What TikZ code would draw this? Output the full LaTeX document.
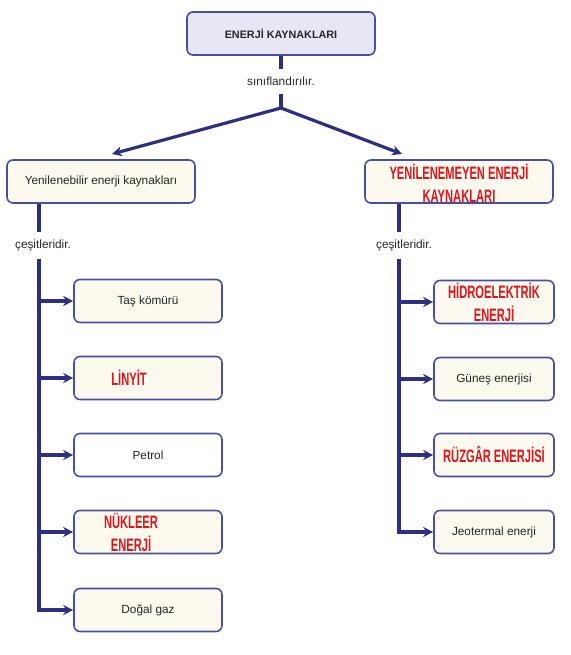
\documentclass[tikz,border=0pt]{standalone}
\usepackage{fontspec}
\setmainfont{Liberation Sans}
\newfontfamily\answerfont[FakeStretch=0.62]{Liberation Sans}
\usetikzlibrary{arrows.meta}
\definecolor{navy}{HTML}{2E2F80}
\definecolor{boxline}{HTML}{4A4E9E}
\definecolor{topfill}{HTML}{E6E6F5}
\definecolor{cream}{HTML}{FCFAEE}
\definecolor{answer}{HTML}{E0141C}
\begin{document}
\begin{tikzpicture}[x=1pt,y=-1pt,
  every node/.style={font=\fontsize{11.8}{13}\selectfont,text=black!85},
  kutu/.style={draw=boxline,line width=1.6pt,rounded corners=6pt,fill=cream,minimum height=43pt,inner sep=0pt},
  cevap/.style={font=\answerfont\bfseries\fontsize{18}{23}\selectfont,text=answer,align=center,inner sep=0pt},
  etiket/.style={inner xsep=1pt,inner ysep=7.5pt},
  hat/.style={draw=navy,line width=3.2pt},
  ok/.style={hat,-{Stealth[length=10pt,width=10pt]}}]
\useasboundingbox (0,0) rectangle (570,655);
% ana kutu
\node[kutu,fill=topfill,minimum width=188pt,font=\bfseries\fontsize{10.8}{13}\selectfont] (ana) at (281,33.5) {ENERJİ KAYNAKLARI};
\node[etiket] (sinif) at (281,81.5) {sınıflandırılır.};
\coordinate (catal) at (281,108);
\coordinate (uclL) at (112,154);
\coordinate (uclR) at (402,154);
% iki grup
\node[kutu,minimum width=188pt] (yen) at (101,181.5) {Yenilenebilir enerji kaynakları};
\node[kutu,minimum width=188pt] (yenz) at (459,181.5) {};
\node[cevap] at (459,183) {YENİLENEMEYEN ENERJİ\\KAYNAKLARI};
\coordinate (sL) at (39,0);
\coordinate (sR) at (399,0);
\node[etiket] (cesL) at (43,245.5) {çeşitleridir.};
\node[etiket] (cesR) at (404,245.5) {çeşitleridir.};
% sol alt kutular
\node[kutu,minimum width=148pt] (k1) at (148,301) {Taş kömürü};
\node[kutu,minimum width=148pt] (k2) at (148,378) {};
\node[cevap] at (129,378) {LİNYİT};
\node[kutu,minimum width=148pt,fill=white] (k3) at (148,455) {Petrol};
\node[kutu,minimum width=148pt] (k4) at (148,532) {};
\node[cevap] at (131,532) {NÜKLEER\\ENERJİ};
\node[kutu,minimum width=148pt] (k5) at (148,610) {Doğal gaz};
% sag alt kutular
\node[kutu,minimum width=120pt] (r1) at (494,302) {};
\node[cevap] at (494,302) {HİDROELEKTRİK\\ENERJİ};
\node[kutu,minimum width=120pt] (r2) at (494,379) {Güneş enerjisi};
\node[kutu,minimum width=120pt] (r3) at (494,455) {};
\node[cevap] at (494,455) {RÜZGÂR ENERJİSİ};
\node[kutu,minimum width=120pt] (r4) at (494,532) {Jeotermal enerji};
% baglantilar
\draw[hat] (ana) -- (sinif);
\draw[hat] (sinif) -- (catal);
\draw[hat,line join=round,{Stealth[length=10pt,width=10pt]}-{Stealth[length=10pt,width=10pt]}] (uclL) -- (catal) -- (uclR);
\draw[hat] (yen.south -| sL) -- (sL |- cesL.north);
\draw[ok] (sL |- cesL.south) -- (sL |- k5) -- (k5);
\foreach \k in {k1,k2,k3,k4} \draw[ok] (sL |- \k) -- (\k);
\draw[hat] (yenz.south -| sR) -- (sR |- cesR.north);
\draw[ok] (sR |- cesR.south) -- (sR |- r4) -- (r4);
\foreach \k in {r1,r2,r3} \draw[ok] (sR |- \k) -- (\k);
\end{tikzpicture}
\end{document}
